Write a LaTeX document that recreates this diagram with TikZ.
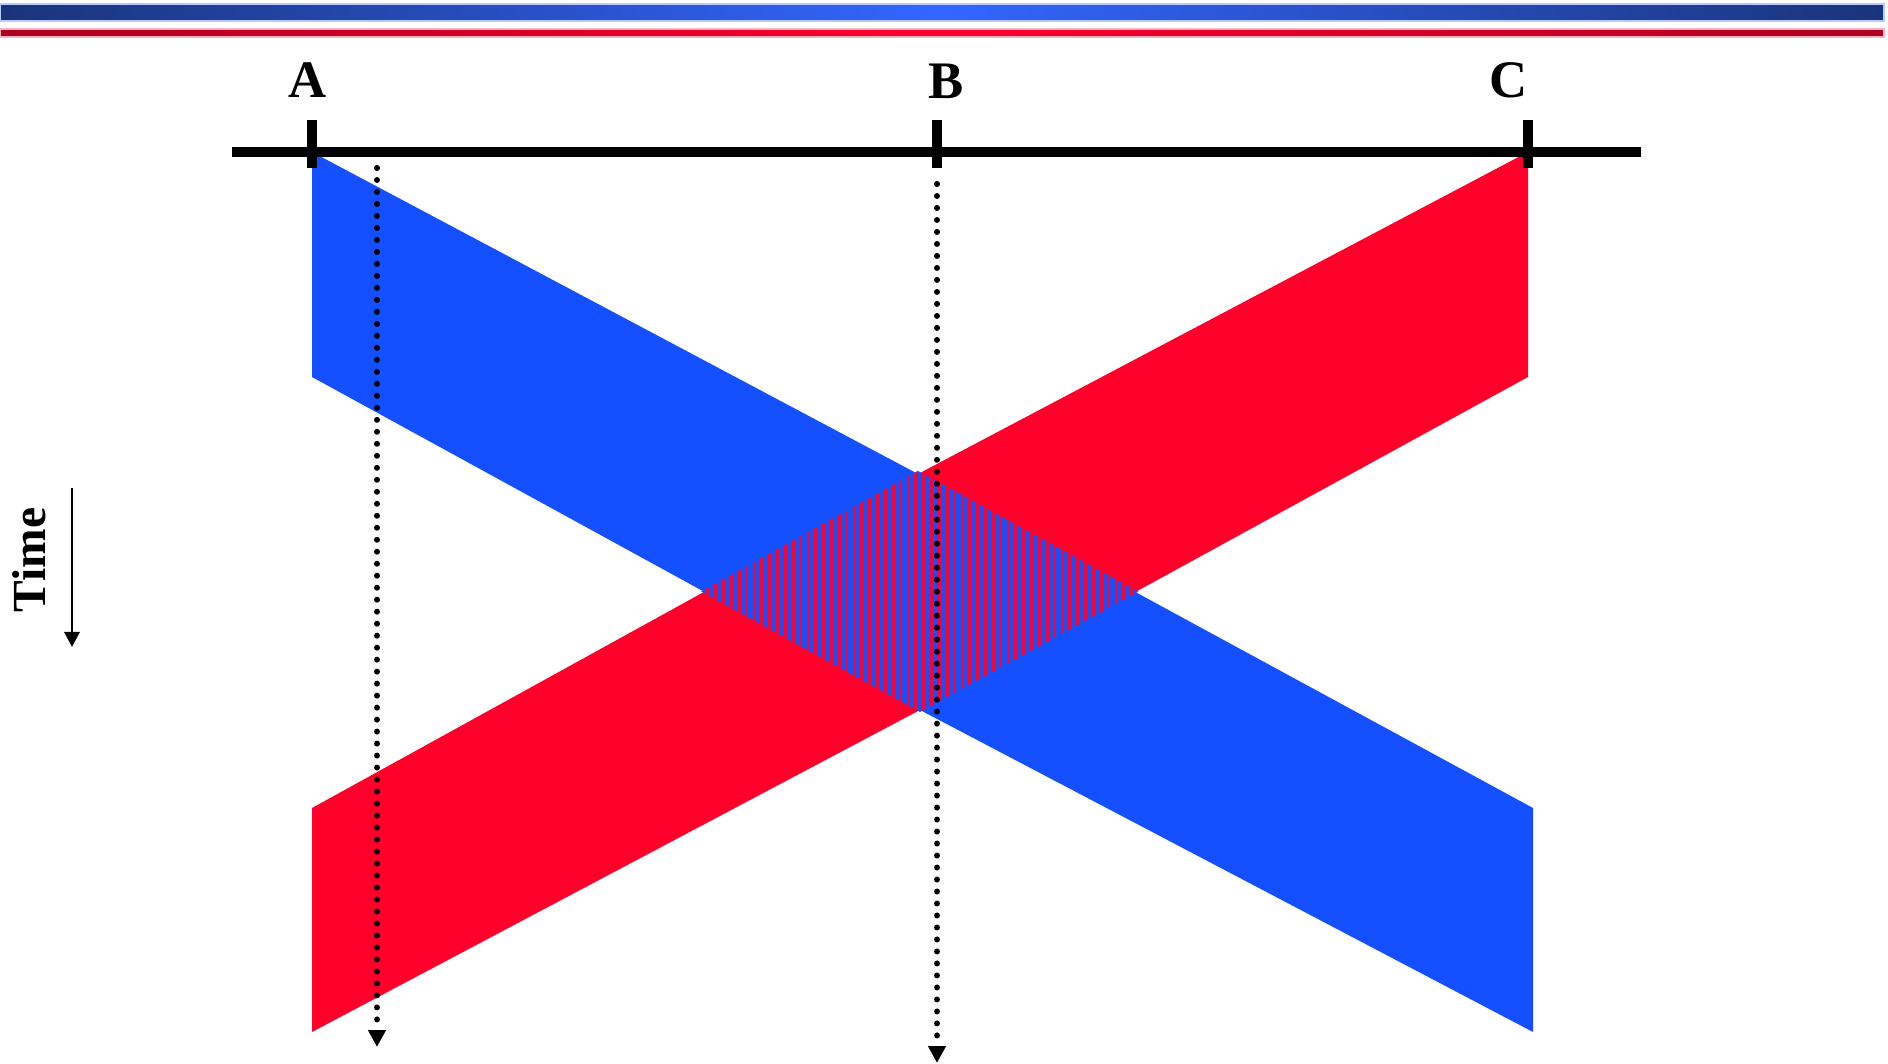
\documentclass[tikz,border=0pt]{standalone}
\usepackage{fontspec}
\setmainfont{Liberation Serif}
\usetikzlibrary{arrows.meta}
\definecolor{bandblue}{RGB}{20,80,255}
\definecolor{bandred}{RGB}{255,0,42}
\definecolor{barblueout}{RGB}{26,52,122}
\definecolor{barbluein}{RGB}{51,102,255}
\definecolor{barredout}{RGB}{172,0,32}
\definecolor{barredin}{RGB}{255,0,46}
\begin{document}
\begin{tikzpicture}[x=0.01cm,y=-0.01cm]
\tikzstyle{every node}=[font=\bfseries\fontsize{15}{18}\selectfont]
\tikzstyle{tickmark}=[line width=3.1pt]
\tikzstyle{probe}=[line width=1.7pt,line cap=round,dash pattern=on 0pt off 3.41pt,arrows={-Triangle[length=4.8pt,width=4.8pt]}]
\useasboundingbox (0,0) rectangle (1888,1064);
\shade[left color=barblueout,right color=barblueout,middle color=barbluein,draw=barbluein!35] (0,4) rectangle (1884,21);
\shade[left color=barredout,right color=barredout,middle color=barredin,draw=barredin!30] (0,29) rectangle (1884,37);
\fill[bandblue] (312,152) -- (918,474) -- (1533,808) -- (1533,1032) -- (920,710) -- (312,377) -- cycle;
\fill[bandred] (1528,152) -- (918,474) -- (312,808) -- (312,1032) -- (920,710) -- (1528,377) -- cycle;
\begin{scope}
\clip (312,152) -- (918,471) -- (1533,808) -- (1533,1032) -- (920,712) -- (312,377) -- cycle;
\clip (1528,152) -- (918,471) -- (312,808) -- (312,1032) -- (920,712) -- (1528,377) -- cycle;
\fill[bandblue] (690,440) rectangle (1150,740);
\foreach \x in {691,698.7,...,1150} \fill[bandred] (\x,440) rectangle ++(3.4,300);
\end{scope}
\coordinate (pa) at (312,152);
\coordinate (pb) at (937,152);
\coordinate (pc) at (1528,152);
\draw[line width=2.85pt] (232,152) -- (1641,152);
\foreach \p in {pa,pb,pc} \draw[tickmark] ([yshift=0.32cm]\p) -- ([yshift=-0.16cm]\p);
\node (la) at (308,80) {A};
\node (lb) at (946,81) {B};
\node (lc) at (1509,80) {C};
\coordinate (sa) at (377,168);
\coordinate (ea) at (377,1047);
\coordinate (sb) at (937,184);
\coordinate (eb) at (937,1063);
\draw[probe] (sa) -- (ea);
\draw[probe] (sb) -- (eb);
\node[rotate=90,font=\bfseries\fontsize{13.5}{16}\selectfont] (time) at (29,560) {Time};
\coordinate (ts) at (72,488);
\coordinate (te) at (72,647);
\draw[line width=0.85pt,arrows={-Triangle[length=4.3pt,width=4.3pt]}] (ts) -- (te);
\end{tikzpicture}
\end{document}
